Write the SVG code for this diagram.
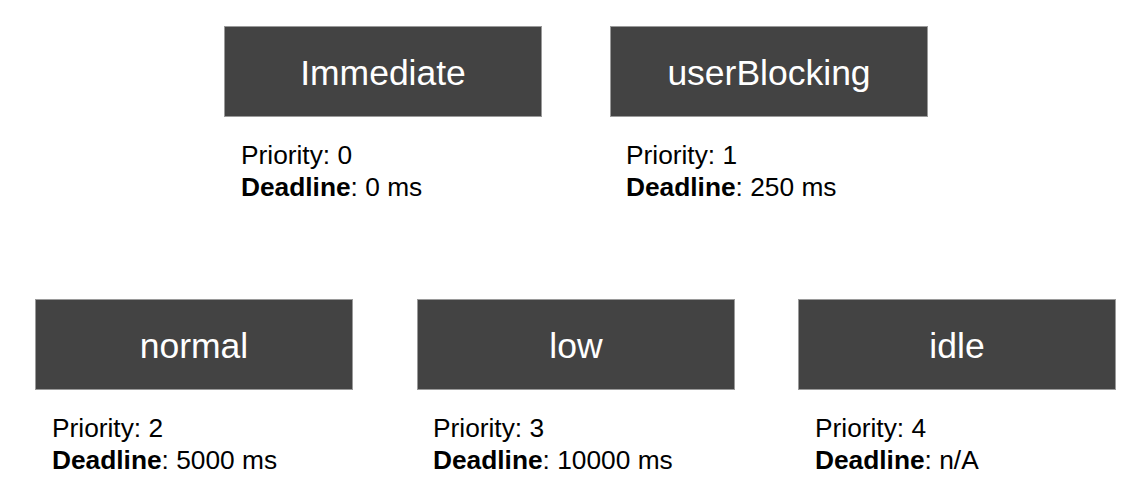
<svg xmlns="http://www.w3.org/2000/svg" width="1136" height="496" viewBox="0 0 1136 496">
<style>
.box{fill:#434343;stroke:#9a9a9a;stroke-width:1}
.title{font-family:"Liberation Sans",Arial,sans-serif;font-size:35.5px;fill:#ffffff;text-anchor:middle}
.info{font-family:"Liberation Sans",Arial,sans-serif;font-size:26.3px;fill:#000000}
.b{font-weight:bold}
</style>
<rect width="1136" height="496" fill="#ffffff"/>
<g id="connectors"></g>
<g id="immediate">
<rect class="box" x="224.5" y="26.5" width="317" height="90"/>
<text class="title" x="383" y="84.5">Immediate</text>
<text class="info" x="241" y="164">Priority: 0</text>
<text class="info" x="241" y="195.5"><tspan class="b">Deadline</tspan>: 0 ms</text>
</g>
<g id="userBlocking">
<rect class="box" x="610.5" y="26.5" width="317" height="90"/>
<text class="title" x="769" y="84.5">userBlocking</text>
<text class="info" x="626" y="164">Priority: 1</text>
<text class="info" x="626" y="195.5"><tspan class="b">Deadline</tspan>: 250 ms</text>
</g>
<g id="normal">
<rect class="box" x="35.5" y="299.5" width="317" height="90"/>
<text class="title" x="194" y="357.5">normal</text>
<text class="info" x="52" y="437">Priority: 2</text>
<text class="info" x="52" y="468.5"><tspan class="b">Deadline</tspan>: 5000 ms</text>
</g>
<g id="low">
<rect class="box" x="417.5" y="299.5" width="317" height="90"/>
<text class="title" x="576" y="357.5">low</text>
<text class="info" x="433" y="437">Priority: 3</text>
<text class="info" x="433" y="468.5"><tspan class="b">Deadline</tspan>: 10000 ms</text>
</g>
<g id="idle">
<rect class="box" x="798.5" y="299.5" width="317" height="90"/>
<text class="title" x="957" y="357.5">idle</text>
<text class="info" x="815" y="437">Priority: 4</text>
<text class="info" x="815" y="468.5"><tspan class="b">Deadline</tspan>: n/A</text>
</g>
</svg>
